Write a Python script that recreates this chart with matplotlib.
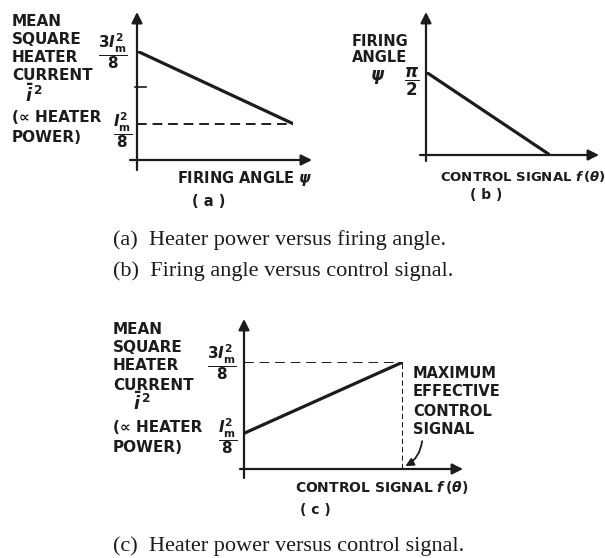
import numpy as np
import matplotlib
matplotlib.use('Agg')
import matplotlib.pyplot as plt

W, H = 605, 558
INK = '#1c1c1c'

plt.rcParams['font.family'] = ['DejaVu Sans']
plt.rcParams['mathtext.fontset'] = 'custom'
plt.rcParams['mathtext.rm'] = 'DejaVu Sans:bold'
plt.rcParams['mathtext.it'] = 'DejaVu Sans:italic:bold'
plt.rcParams['mathtext.bf'] = 'DejaVu Sans:bold'

# (a) mean square heater current (units of Im^2/8) vs firing angle
a_psi = [0.0, 1.0]
a_power = [3.0, 1.0]
# (b) firing angle vs control signal
b_signal = [0.0, 1.0]
b_psi = [np.pi / 2, 0.0]
# (c) mean square heater current vs control signal
c_signal = [0.0, 1.0]
c_power = [1.0, 3.0]

ylab_lines = ['MEAN', 'SQUARE', 'HEATER', 'CURRENT', r'$\bar{i}^{\,2}$', '(\u221d HEATER', 'POWER)']
frac_hi = r'$\dfrac{3I_{\mathrm{m}}^{2}}{8}$'
frac_lo = r'$\dfrac{I_{\mathrm{m}}^{2}}{8}$'
frac_pi = r'$\dfrac{\pi}{2}$'
captions = ['(a)  Heater power versus firing angle.',
            '(b)  Firing angle versus control signal.',
            '(c)  Heater power versus control signal.']

fig = plt.figure(figsize=(W / 100, H / 100), dpi=100)


def px(x, y):
    return x / W, 1 - y / H


def panel(ox, oy, ex, ey, ytop, tips):
    # axes box runs from the origin to the end of the plotted line
    ax = fig.add_axes([ox / W, 1 - oy / H, (ex - ox) / W, (oy - ey) / H])
    ax.set_xlim(0, 1)
    ax.set_ylim(0, ytop)
    ax.axis('off')
    xl, xr, yb, yt = tips
    fx = lambda p: (p - ox) / (ex - ox)
    fy = lambda p: (oy - p) / (oy - ey)
    arr = dict(arrowstyle='-|>', lw=1.6, color=INK, mutation_scale=16, shrinkA=0, shrinkB=0)
    ax.annotate('', xy=(fx(xr), 0), xytext=(fx(xl), 0), xycoords='axes fraction',
                arrowprops=arr, annotation_clip=False)
    ax.annotate('', xy=(0, fy(yt)), xytext=(0, fy(yb)), xycoords='axes fraction',
                arrowprops=arr, annotation_clip=False)
    return ax


def ylabel_block(x0, ys, xbar):
    for i, (s, y) in enumerate(zip(ylab_lines, ys)):
        xx = xbar if i == 4 else x0
        size = 12.5 if i == 4 else 11
        fig.text(*px(xx, y), s, fontsize=size, fontweight='bold', color=INK, va='center')


def tick_label(ax, s, y, dx, dy, size=11):
    ax.annotate(s, xy=(0, y), xytext=(dx, dy), textcoords='offset pixels',
                ha='right', va='center', fontsize=size, color=INK, annotation_clip=False)


# ---- (a)
ax = panel(137, 160, 293, 51, 3.0, (130, 312, 170, 12))
ax.plot(a_psi, a_power, color=INK, lw=2.3, solid_capstyle='round')
ax.plot([0, a_psi[-1]], [a_power[-1]] * 2, color=INK, lw=1.4, ls=(0, (5, 3)))
ax.plot([-0.01, 0.055], [2, 2], color=INK, lw=1.2, clip_on=False)
tick_label(ax, frac_hi, a_power[0], -9, 0)
tick_label(ax, frac_lo, a_power[-1], -5, -6)
ylabel_block(12, [21, 39, 57, 76, 95, 117, 137], 25)
fig.text(*px(177, 179), r'FIRING ANGLE $\psi$', fontsize=10.5, fontweight='bold', color=INK, va='center')
fig.text(*px(192, 202), '( a )', fontsize=10.5, fontweight='bold', color=INK, va='center')

# ---- (b)
ax = panel(426, 155, 550, 72, np.pi / 2, (420, 599, 161, 12))
ax.plot(b_signal, b_psi, color=INK, lw=2.3, solid_capstyle='round')
tick_label(ax, frac_pi, b_psi[0], -7, -10, size=12)
for s, y in zip(['FIRING', 'ANGLE'], [42, 58]):
    fig.text(*px(352, y), s, fontsize=10.5, fontweight='bold', color=INK, va='center')
fig.text(*px(370, 77), r'$\psi$', fontsize=12, color=INK, va='center')
fig.text(*px(440, 176), r'CONTROL SIGNAL $f\,(\theta)$', fontsize=9.5, fontweight='bold', color=INK, va='center')
fig.text(*px(470, 195), '( b )', fontsize=10, fontweight='bold', color=INK, va='center')

# ---- (c)
ax = panel(244, 469, 403, 362, 3.0, (240, 463, 478, 319))
ax.plot(c_signal, c_power, color=INK, lw=2.3, solid_capstyle='round')
ax.plot([0, c_signal[-1]], [c_power[-1]] * 2, color=INK, lw=1.4, ls=(0, (5, 3)))
ax.plot([c_signal[-1]] * 2, [0, c_power[-1]], color=INK, lw=1.5, ls=(0, (2.5, 1.5)))
ax.annotate('', xy=(1.015, 0.08), xytext=(1.12, 0.78),
            arrowprops=dict(arrowstyle='-|>', lw=1.3, color=INK, mutation_scale=12,
                            shrinkA=0, shrinkB=0, connectionstyle='arc3,rad=-0.25'),
            annotation_clip=False)
tick_label(ax, frac_hi, c_power[-1], -7, 0)
tick_label(ax, frac_lo, c_power[0], -7, -3)
ylabel_block(113, [329, 348, 366, 385, 403, 428, 447], 133)
for s, y in zip(['MAXIMUM', 'EFFECTIVE', 'CONTROL', 'SIGNAL'], [373, 392, 411, 430]):
    fig.text(*px(413, y), s, fontsize=10.5, fontweight='bold', color=INK, va='center')
fig.text(*px(295, 487), r'CONTROL SIGNAL $f\,(\theta)$', fontsize=10, fontweight='bold', color=INK, va='center')
fig.text(*px(300, 510), '( c )', fontsize=10, fontweight='bold', color=INK, va='center')

# ---- captions
for s, y in zip(captions, [240, 271, 546]):
    fig.text(*px(113, y), s, fontsize=16, family='Liberation Serif', color=INK, va='center')

fig.savefig('out.png', dpi=100)
